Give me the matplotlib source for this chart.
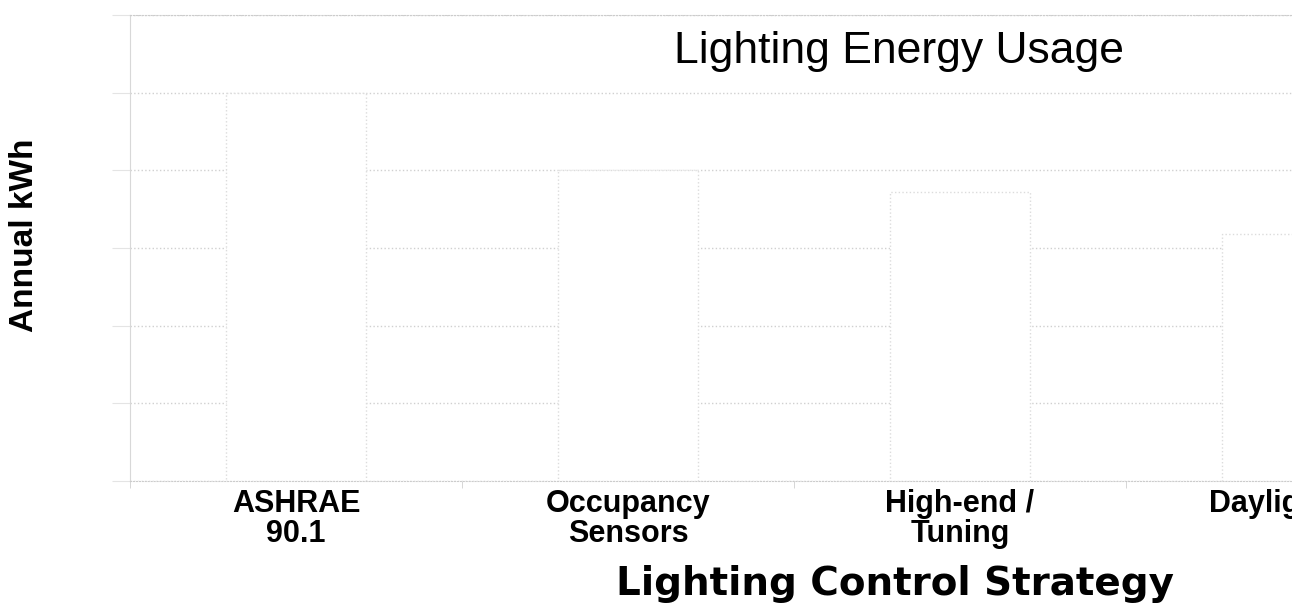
import numpy as np
import matplotlib.pyplot as plt

categories = ["ASHRAE\n90.1", "Occupancy\nSensors", "High-end /\nTuning", "Daylighting"]
annual_kwh = [5.0, 4.0, 3.72, 3.18]
y_ticks = [0, 1, 2, 3, 4, 5, 6]

W, H = 1292, 604
fig = plt.figure(figsize=(W / 100, H / 100), dpi=100)
ax = fig.add_axes([130 / W, 123 / H, (W - 130) / W, 466 / H])

x = np.arange(len(categories))
ax.bar(x, annual_kwh, width=0.42, color="white", edgecolor="#dcdcdc",
       linewidth=1, linestyle=":", zorder=2)

ax.set_xlim(-0.5, 2.973)
ax.set_ylim(0, 6)

# faint dotted grid
ax.set_yticks(y_ticks)
ax.set_yticklabels([])
ax.yaxis.grid(True, color="#d0d0d0", linestyle=":", linewidth=1)
ax.set_axisbelow(True)

# category labels in the middle, small ticks at the boundaries
ax.set_xticks(x)
ax.set_xticklabels(categories, fontfamily="Liberation Sans", fontweight="bold",
                   fontsize=22, linespacing=0.98)
ax.set_xticks(x - 0.5, minor=True)
ax.tick_params(axis="x", which="major", length=0, pad=6)
ax.tick_params(axis="x", which="minor", length=5, color="#d0d0d0")
ax.tick_params(axis="y", length=13, color="#e4e4e4")

ax.spines["left"].set_color("#d8d8d8")
ax.spines["bottom"].set_color("#cccccc")
ax.spines["bottom"].set_linestyle(":")
ax.spines["top"].set_color("#cccccc")
ax.spines["top"].set_linestyle(":")
ax.spines["right"].set_visible(False)

ax.set_title("Lighting Energy Usage", fontfamily="Liberation Sans", fontsize=32,
             x=0.662, y=0.897, pad=0)
ax.set_ylabel("Annual kWh", fontfamily="Liberation Sans", fontweight="bold",
              fontsize=24, va="center")
ax.yaxis.set_label_coords(-0.0904, 0.528)
ax.set_xlabel("Lighting Control Strategy", fontfamily="DejaVu Sans",
              fontweight="bold", fontsize=28, va="center")
ax.xaxis.set_label_coords(0.658, -0.22)

fig.savefig("out.png", dpi=100, facecolor="white")
